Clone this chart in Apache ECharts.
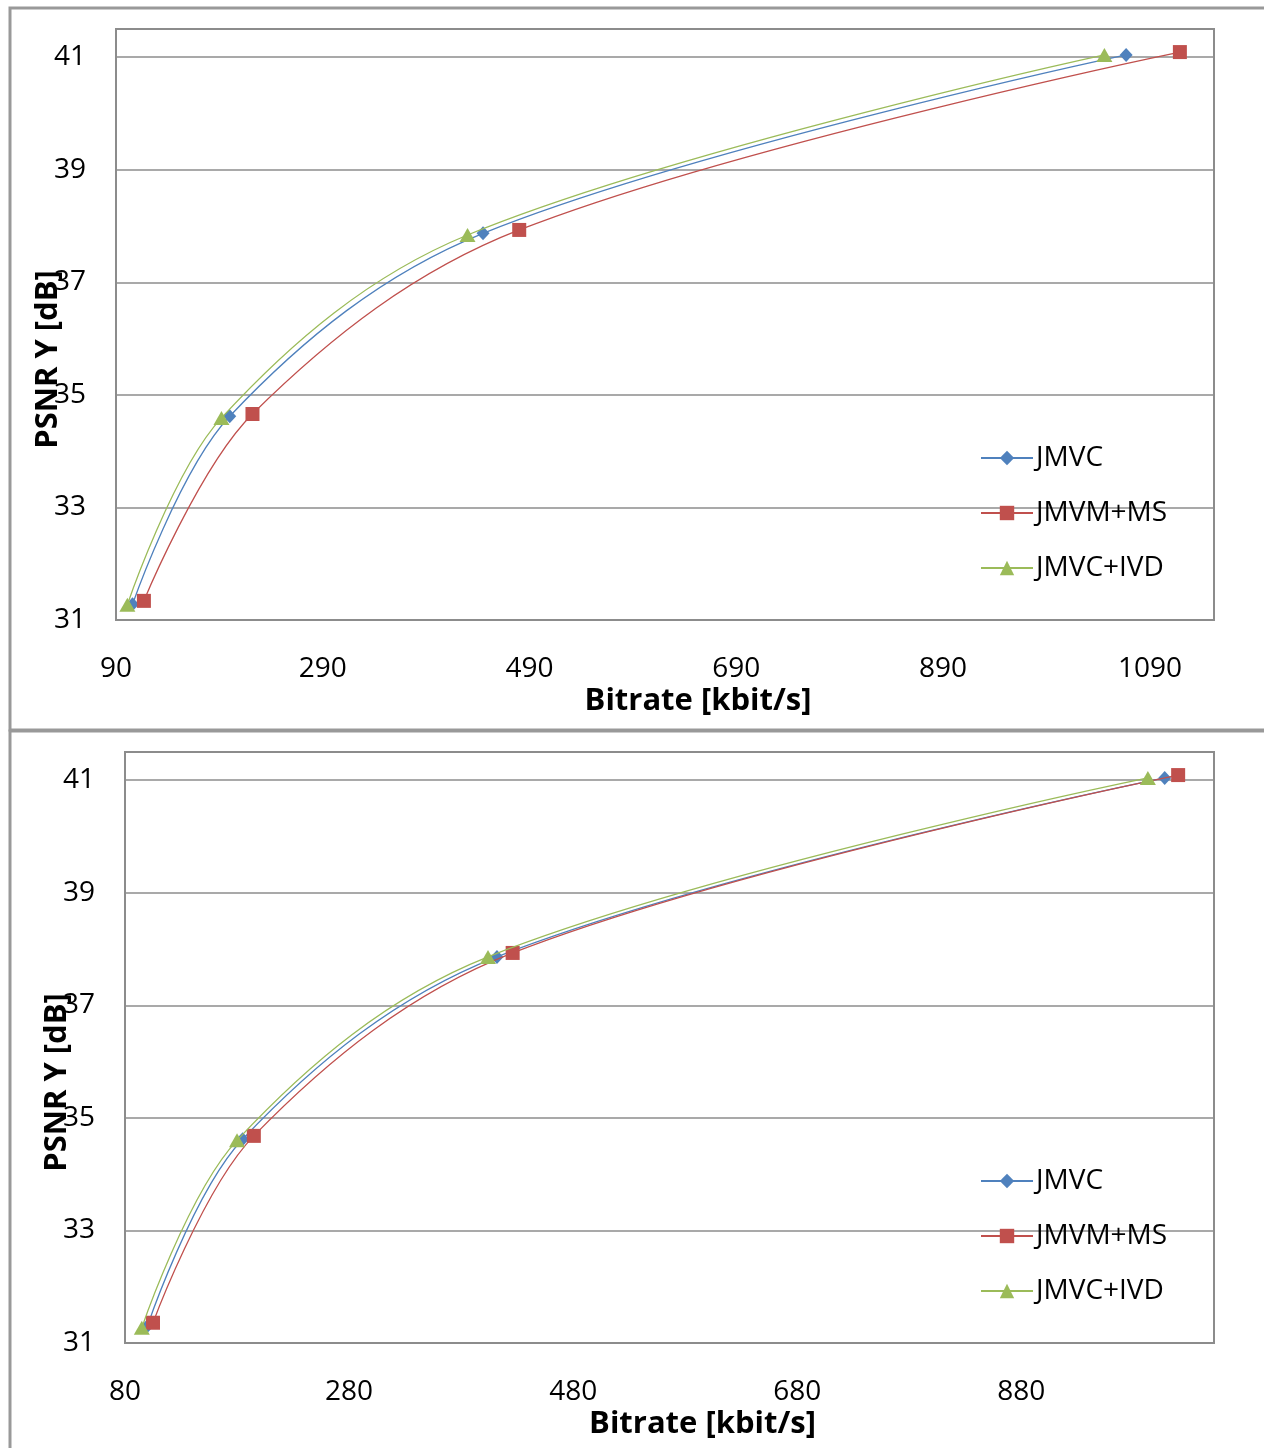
<!DOCTYPE html>
<html>
<head>
<meta charset="utf-8">
<script src="https://cdn.jsdelivr.net/npm/echarts@6/dist/echarts.min.js"></script>
<style>
  html, body { margin: 0; padding: 0; background: #fff; }
  #main { width: 1264px; height: 1448px; }
</style>
</head>
<body>
<div id="main"></div>
<script>
// series names
const seriesNames = ['JMVC', 'JMVM+MS', 'JMVC+IVD'];

// top chart: bitrate [kbit/s] and PSNR Y [dB]
const topRateJMVC = [106, 200, 445, 1067];
const topPsnrJMVC = [31.28, 34.62, 37.87, 41.04];
const topRateMS = [117, 222, 480, 1119];
const topPsnrMS = [31.34, 34.66, 37.93, 41.09];
const topRateIVD = [101, 192, 430, 1046];
const topPsnrIVD = [31.27, 34.59, 37.84, 41.04];

// bottom chart
const botRateJMVC = [100, 185, 412, 1008];
const botPsnrJMVC = [31.30, 34.62, 37.86, 41.04];
const botRateMS = [105, 195, 426, 1020];
const botPsnrMS = [31.36, 34.68, 37.93, 41.09];
const botRateIVD = [95, 180, 404, 993];
const botPsnrIVD = [31.27, 34.60, 37.86, 41.04];

const colors = ['#4F81BD', '#C0504D', '#9BBB59'];
const symbols = ['diamond', 'rect', 'triangle'];
const symbolSizes = [[13, 14], 14, [16, 14]];

function pairs(xs, ys) {
    return xs.map(function (x, i) { return [x, ys[i]]; });
}

const font = '"Open Sans", "DejaVu Sans", sans-serif';
const gridColor = '#8c8c8c';

function makeXAxis(idx, min, max) {
    return {
        type: 'value', gridIndex: idx, min: min, max: max, interval: 200,
        name: 'Bitrate [kbit/s]', nameLocation: 'middle', nameGap: 66, nameMoveOverlap: false,
        nameTextStyle: { fontSize: 31, fontWeight: 'bold', color: '#000', fontFamily: font, padding: [0, 0, 0, 66] },
        axisLine: { show: false }, axisTick: { show: false },
        axisLabel: { fontSize: 28, color: '#000', fontFamily: font, margin: 35, showMaxLabel: false,
            formatter: function (v) { return String(v); } },
        splitLine: { show: false }
    };
}

function makeYAxis(idx) {
    return {
        type: 'value', gridIndex: idx, min: 31, max: 41.5, interval: 2,
        name: 'PSNR Y [dB]', nameLocation: 'middle', nameGap: 52, nameRotate: 90, nameMoveOverlap: false,
        nameTextStyle: { fontSize: 31, fontWeight: 'bold', color: '#000', fontFamily: font, padding: [0, 70, 0, 0] },
        axisLine: { show: false }, axisTick: { show: false },
        axisLabel: { fontSize: 28, color: '#000', fontFamily: font, margin: 30, showMaxLabel: false },
        splitLine: { show: true, lineStyle: { color: gridColor, width: 1.5 } }
    };
}

function makeSeries(idx, k, data) {
    return {
        name: seriesNames[k], type: 'line', xAxisIndex: idx, yAxisIndex: idx,
        data: data, smooth: 0.35, symbol: symbols[k], symbolSize: symbolSizes[k],
        showAllSymbol: true, z: 3 + k,
        lineStyle: { color: colors[k], width: 1.3 },
        itemStyle: { color: colors[k] }
    };
}

function makeLegend(top) {
    return {
        data: seriesNames, orient: 'vertical', left: 975, top: top,
        itemWidth: 52, itemHeight: 18, itemGap: 23,
        textStyle: { fontSize: 28, color: '#000', fontFamily: font, lineHeight: 32, padding: [0, 0, 0, -2] },
        selectedMode: false
    };
}

const chart = echarts.init(document.getElementById('main'), null, { renderer: 'canvas' });

chart.setOption({
    backgroundColor: '#fff',
    animation: false,
    graphic: [
        { type: 'rect', shape: { x: 10, y: 8, width: 1270, height: 722 }, style: { fill: 'none', stroke: '#999', lineWidth: 3 }, z: -1 },
        { type: 'rect', shape: { x: 10, y: 731, width: 1270, height: 740 }, style: { fill: 'none', stroke: '#999', lineWidth: 3 }, z: -1 }
    ],
    grid: [
        { left: 116, top: 29, width: 1098, height: 591, show: true, borderColor: gridColor, borderWidth: 2, backgroundColor: 'transparent' },
        { left: 125, top: 752, width: 1089, height: 591, show: true, borderColor: gridColor, borderWidth: 2, backgroundColor: 'transparent' }
    ],
    xAxis: [makeXAxis(0, 90, 1152), makeXAxis(1, 80, 1052)],
    yAxis: [makeYAxis(0), makeYAxis(1)],
    legend: [makeLegend(437), makeLegend(1160)],
    series: [
        makeSeries(0, 0, pairs(topRateJMVC, topPsnrJMVC)),
        makeSeries(0, 1, pairs(topRateMS, topPsnrMS)),
        makeSeries(0, 2, pairs(topRateIVD, topPsnrIVD)),
        makeSeries(1, 0, pairs(botRateJMVC, botPsnrJMVC)),
        makeSeries(1, 1, pairs(botRateMS, botPsnrMS)),
        makeSeries(1, 2, pairs(botRateIVD, botPsnrIVD))
    ]
});
</script>
</body>
</html>
